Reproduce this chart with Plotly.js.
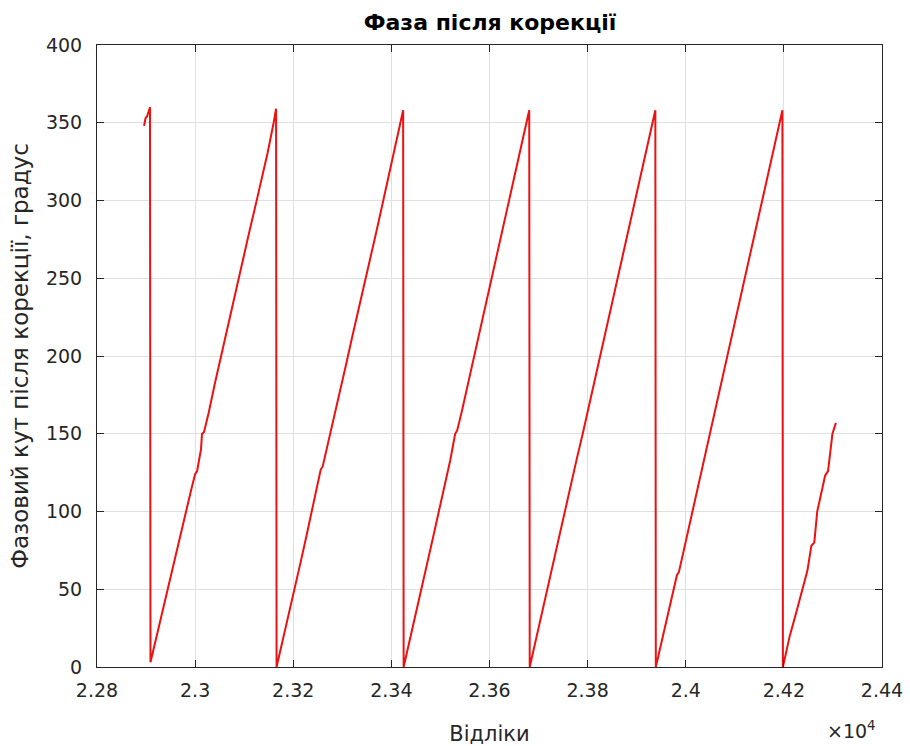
<!DOCTYPE html>
<html>
<head>
<meta charset="utf-8">
<script src="https://cdn.plot.ly/plotly-3.0.1.min.js"></script>
<style>html,body{margin:0;padding:0;background:#fff;}#chart{width:910px;height:746px;}</style>
</head>
<body>
<div id="chart"></div>
<script>
// Samples (x) and phase after correction in degrees (y)
const samples = [
  22896, 22899, 22902, 22908,
  22909, 22920, 22932, 22944, 22956, 22968, 22980, 22992, 23000, 23004, 23012, 23014, 23018, 23028, 23040, 23052, 23064, 23076, 23088, 23100, 23112, 23124, 23136, 23148, 23160, 23165,
  23166, 23178, 23190, 23202, 23214, 23226, 23238, 23250, 23256, 23260, 23272, 23284, 23296, 23308, 23320, 23332, 23344, 23356, 23368, 23380, 23392, 23404, 23416, 23424,
  23425, 23436, 23448, 23460, 23472, 23484, 23496, 23508, 23520, 23530, 23534, 23544, 23556, 23568, 23580, 23592, 23604, 23616, 23628, 23640, 23652, 23664, 23676, 23681,
  23682, 23694, 23706, 23718, 23730, 23742, 23754, 23766, 23778, 23790, 23802, 23814, 23826, 23838, 23850, 23862, 23874, 23886, 23898, 23910, 23922, 23934, 23938,
  23939, 23950, 23962, 23974, 23982, 23986, 23998, 24010, 24022, 24034, 24046, 24058, 24070, 24082, 24094, 24106, 24118, 24130, 24142, 24154, 24166, 24178, 24190, 24197,
  24198, 24212, 24226, 24238, 24248, 24256, 24262, 24268, 24284, 24290, 24299, 24306
];
const phaseDeg = [
  348, 353, 354, 360,
  3, 18, 34, 50, 66, 82, 98, 114, 124, 126, 140, 150, 151, 164, 182, 199, 215, 232, 248, 265, 282, 298, 314, 331, 350, 359,
  0, 16, 33, 50, 66, 83, 100, 117, 127, 129, 145, 162, 178, 195, 212, 228, 245, 262, 278, 295, 312, 330, 347, 358,
  0, 15, 32, 49, 66, 82, 99, 116, 133, 150, 152, 165, 182, 199, 216, 232, 249, 266, 283, 300, 317, 334, 351, 358,
  0, 17, 34, 50, 66, 83, 100, 117, 134, 150, 167, 184, 200, 217, 234, 251, 268, 284, 301, 318, 335, 352, 358,
  0, 15, 32, 48, 59, 61, 78, 95, 112, 129, 146, 162, 179, 196, 213, 230, 246, 263, 280, 297, 314, 331, 348, 358,
  0, 20, 36, 50, 62, 78, 80, 100, 123, 126, 150, 157
];
const xTickVals = [22800, 23000, 23200, 23400, 23600, 23800, 24000, 24200, 24400];
const xTickText = ['2.28', '2.3', '2.32', '2.34', '2.36', '2.38', '2.4', '2.42', '2.44'];
const yTickVals = [0, 50, 100, 150, 200, 250, 300, 350, 400];

const axisColor = '#262626';
const gridColor = '#e0e0e0';
const fontFam = 'DejaVu Sans, Arial, sans-serif';

const trace = {
  x: samples, y: phaseDeg, type: 'scatter', mode: 'lines',
  line: {color: '#ee1111', width: 2},
  hoverinfo: 'skip'
};

const layout = {
  width: 910, height: 746,
  paper_bgcolor: '#fff', plot_bgcolor: '#fff',
  margin: {l: 97, r: 28, t: 45, b: 79},
  showlegend: false,
  font: {family: fontFam, color: axisColor, size: 19},
  title: {
    text: '<b>Фаза після корекції</b>',
    font: {family: fontFam, size: 22, color: '#000'},
    x: 0.5385, xanchor: 'center', y: 0.970, yanchor: 'middle'
  },
  xaxis: {
    range: [22800, 24400],
    tickmode: 'array', tickvals: xTickVals, ticktext: xTickText,
    ticks: 'inside', ticklen: 7, tickcolor: axisColor, tickwidth: 1,
    showline: true, linecolor: axisColor, linewidth: 1, mirror: 'ticks',
    showgrid: true, gridcolor: gridColor, gridwidth: 1,
    zeroline: false, automargin: false,
    ticklabelstandoff: 6,
    tickfont: {family: fontFam, size: 19, color: axisColor},
    title: {text: 'Відліки', font: {family: fontFam, size: 21, color: axisColor}, standoff: 26}
  },
  yaxis: {
    range: [0, 400],
    tickmode: 'array', tickvals: yTickVals,
    ticks: 'inside', ticklen: 7, tickcolor: axisColor, tickwidth: 1,
    showline: true, linecolor: axisColor, linewidth: 1, mirror: 'ticks',
    showgrid: true, gridcolor: gridColor, gridwidth: 1,
    zeroline: false, automargin: false,
    ticklabelstandoff: 10,
    tickfont: {family: fontFam, size: 19, color: axisColor},
    title: {text: 'Фазовий кут після корекції, градус', font: {family: fontFam, size: 23, color: axisColor}, standoff: 10}
  },
  annotations: [{
    xref: 'paper', yref: 'paper', x: 1.0, y: 0, xanchor: 'right', yanchor: 'bottom',
    yshift: -77, xshift: -4,
    text: '×10<sup>4</sup>', showarrow: false,
    font: {family: fontFam, size: 19, color: axisColor}
  }]
};

Plotly.newPlot('chart', [trace], layout, {displayModeBar: false, staticPlot: true});
</script>
</body>
</html>
